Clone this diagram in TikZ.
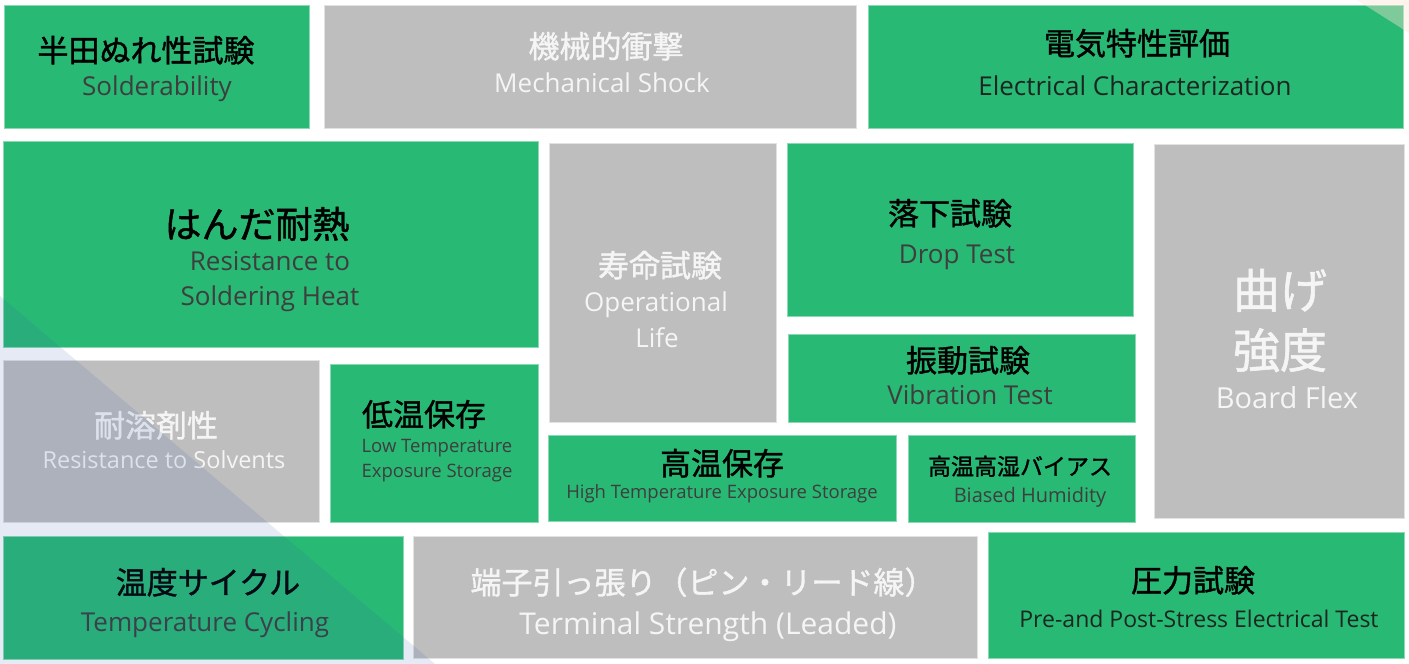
\documentclass[tikz,border=0pt]{standalone}
\usepackage{fontspec}
\setmainfont{Open Sans}
\newfontfamily\jpfont[FakeBold=1.2]{Noto Sans CJK JP}
\usepackage{xcolor}

\definecolor{boxgreen}{RGB}{40,185,117}
\definecolor{boxgray}{RGB}{190,190,190}
\definecolor{labeldark}{RGB}{62,62,62}
\definecolor{labelblack}{RGB}{28,38,33}
\definecolor{labelwhite}{RGB}{245,245,245}
\definecolor{shadeblue}{RGB}{42,88,172}
\definecolor{cornerpeach}{RGB}{255,228,212}

\tikzset{
  gbox/.style={rectangle,fill=boxgreen,draw=boxgreen!55!white,line width=0.8pt,inner sep=0pt},
  ybox/.style={rectangle,fill=boxgray,draw=boxgray!45!white,line width=0.8pt,inner sep=0pt},
  jp/.style={font=\jpfont\fontsize{#1}{#1}\selectfont,inner sep=0pt,anchor=base,text=black},
  jp/.default=31,
  en/.style={font=\fontsize{#1}{#1}\selectfont,inner sep=0pt,anchor=base,text=labeldark},
  en/.default=26,
  light/.style={text=labelwhite}
}

\begin{document}
\begin{tikzpicture}[x=1pt,y=-1pt]
\fill[white] (0,0) rectangle (1409,664);

% top row
\node[gbox,minimum width=305pt,minimum height=123pt] (solder) at (156.5,66.5) {};
\node[jp] (solder-jp) at (146,62) {半田ぬれ性試験};
\node[en] (solder-en) at (157,95) {Solderability};

\node[ybox,minimum width=532pt,minimum height=123pt] (shock) at (590,66.5) {};
\node[jp,light] (shock-jp) at (606,58) {機械的衝撃};
\node[en,light] (shock-en) at (602,92) {Mechanical Shock};

\node[gbox,minimum width=535pt,minimum height=123pt] (elec) at (1135.5,66.5) {};
\node[jp] (elec-jp) at (1137,55) {電気特性評価};
\node[en,text=labelblack] (elec-en) at (1135,95) {Electrical Characterization};

% middle block
\node[gbox,minimum width=535pt,minimum height=206pt] (heat) at (270.5,244) {};
\node[jp=37] (heat-jp) at (257,238) {はんだ耐熱};
\node[en] (heat-en1) at (270,270) {Resistance to};
\node[en] (heat-en2) at (270,305) {Soldering Heat};

\node[ybox,minimum width=227pt,minimum height=279pt] (life) at (662.5,282.5) {};
\node[jp,light] (life-jp) at (660,277) {寿命試験};
\node[en,light] (life-en1) at (656,311) {Operational};
\node[en,light] (life-en2) at (657,347) {Life};

\node[gbox,minimum width=346pt,minimum height=173pt] (drop) at (960,229.5) {};
\node[jp] (drop-jp) at (950,225) {落下試験};
\node[en] (drop-en) at (957,263) {Drop Test};

\node[gbox,minimum width=347pt,minimum height=88pt] (vib) at (961.5,378) {};
\node[jp] (vib-jp) at (968,372) {振動試験};
\node[en] (vib-en) at (970,404) {Vibration Test};

\node[ybox,minimum width=250pt,minimum height=374pt] (flex) at (1279,331) {};
\node[jp=47,light] (flex-jp1) at (1280,308) {曲げ};
\node[jp=47,light] (flex-jp2) at (1280,368) {強度};
\node[en=29,light] (flex-en) at (1287,408) {Board Flex};

\node[ybox,minimum width=316pt,minimum height=162pt] (solv) at (161,441) {};
\node[jp,light] (solv-jp) at (156,437) {耐溶剤性};
\node[en=23.5,light] (solv-en) at (164,468) {Resistance to Solvents};

\node[gbox,minimum width=208pt,minimum height=158pt] (lowt) at (434,443) {};
\node[jp] (lowt-jp) at (424,426) {低温保存};
\node[en=18.5] (lowt-en1) at (437,452) {Low Temperature};
\node[en=18.5] (lowt-en2) at (437,477) {Exposure Storage};

\node[gbox,minimum width=348pt,minimum height=86pt] (hight) at (722,478) {};
\node[jp] (hight-jp) at (722,475) {高温保存};
\node[en=18.5] (hight-en) at (722,498) {High Temperature Exposure Storage};

\node[gbox,minimum width=227pt,minimum height=87pt] (bias) at (1021.5,478.5) {};
\node[jp=23] (bias-jp) at (1020,475) {高温高湿バイアス};
\node[en=20] (bias-en) at (1030,502) {Biased Humidity};

% bottom row
\node[gbox,minimum width=400pt,minimum height=123pt] (cycle) at (203,597.5) {};
\node[jp] (cycle-jp) at (208,594) {温度サイクル};
\node[en] (cycle-en) at (205,631) {Temperature Cycling};

\node[ybox,minimum width=564pt,minimum height=122pt] (term) at (695,597) {};
\node[jp,light] (term-jp) at (703,594) {端子引っ張り（ピン・リード線）};
\node[en=30,light] (term-en) at (708,634) {Terminal Strength (Leaded)};

\node[gbox,minimum width=416pt,minimum height=126pt] (press) at (1196,595) {};
\node[jp] (press-jp) at (1193,592) {圧力試験};
\node[en=23,text=labelblack] (press-en) at (1199,627) {Pre-and Post-Stress Electrical Test};

% corner shading
\fill[shadeblue,opacity=0.12] (0,296) -- (435,664) -- (0,664) -- cycle;
\fill[cornerpeach,opacity=0.4] (1357,0) -- (1409,0) -- (1409,33) -- cycle;

\end{tikzpicture}
\end{document}
